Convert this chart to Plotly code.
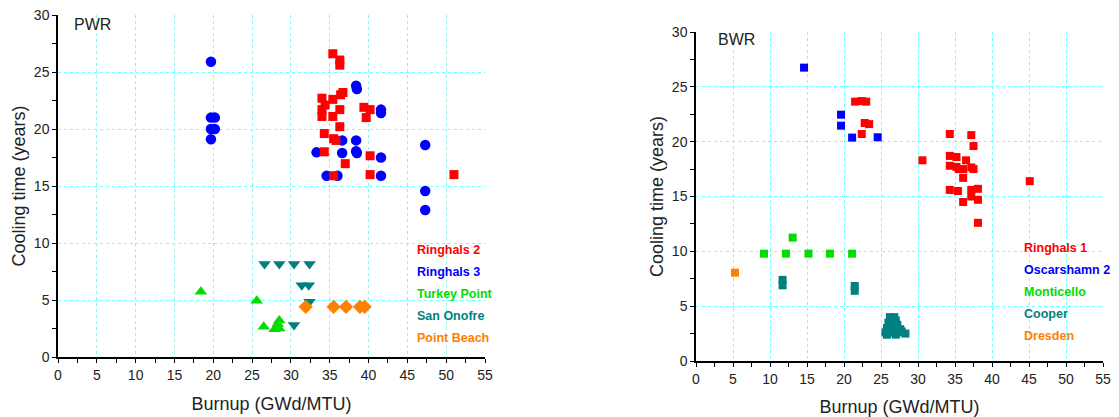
import plotly.graph_objects as go
from plotly.subplots import make_subplots

# ---------------- PWR data ----------------
ringhals2_x = [35.4, 36.3, 36.3, 36.7, 36.4, 34.0, 35.4, 34.4, 34.0, 36.3, 34.0, 35.4, 39.4, 40.2, 39.7,
               36.3, 34.3, 35.5, 35.8, 34.3, 40.2, 37.0, 35.5, 40.2, 51.0]
ringhals2_y = [26.6, 26.05, 25.6, 23.2, 23.0, 22.7, 22.6, 22.1, 21.7, 21.7, 21.1, 21.1, 21.9, 21.7, 21.0,
               20.2, 19.6, 19.15, 19.0, 18.0, 17.65, 16.96, 15.9, 16.0, 16.0]

ringhals3_x = [19.7, 19.7, 20.2, 19.7, 20.2, 19.7, 38.4, 38.5, 41.6, 41.6, 36.6, 38.4, 47.3, 33.3, 36.6,
               38.4, 38.5, 41.6, 34.6, 36.0, 41.6, 47.3, 47.3]
ringhals3_y = [25.9, 21.0, 21.0, 20.0, 20.0, 19.1, 23.8, 23.5, 21.7, 21.4, 19.0, 19.0, 18.6, 17.95, 17.9,
               18.05, 17.9, 17.5, 15.9, 15.9, 15.9, 14.56, 12.9]

turkey_x = [18.4, 25.6, 26.5, 28.5, 28.3, 27.9, 28.5]
turkey_y = [5.73, 4.94, 2.66, 3.2, 2.9, 2.43, 2.5]

onofre_x = [26.6, 28.5, 30.4, 32.4, 31.4, 32.3, 32.4, 30.4]
onofre_y = [8.16, 8.16, 8.16, 8.16, 6.3, 6.3, 4.85, 2.8]

beach_x = [31.9, 35.5, 37.1, 38.9, 39.5]
beach_y = [4.4, 4.4, 4.4, 4.4, 4.4]

# ---------------- BWR data ----------------
ringhals1_x = [21.5, 22.4, 23.0, 22.8, 23.4, 22.4, 34.3, 37.2, 37.5, 30.6, 34.3, 35.2, 36.5, 34.3, 35.2,
               35.5, 36.1, 37.2, 37.5, 36.1, 34.3, 35.4, 37.2, 38.1, 37.2, 38.1, 36.1, 38.1, 45.1]
ringhals1_y = [23.65, 23.7, 23.65, 21.7, 21.6, 20.7, 20.7, 20.6, 19.6, 18.3, 18.7, 18.6, 18.3, 17.8, 17.7,
               17.5, 17.5, 17.65, 17.5, 16.7, 15.6, 15.5, 15.6, 15.7, 15.0, 14.7, 14.5, 12.6, 16.4]

oscar_x = [14.6, 19.6, 19.6, 21.1, 24.55]
oscar_y = [26.75, 22.46, 21.46, 20.37, 20.4]

monti_x = [9.19, 12.16, 13.06, 15.2, 18.1, 21.1]
monti_y = [9.79, 9.79, 11.25, 9.79, 9.79, 9.79]

cooper_x = [11.7, 11.7, 21.45, 21.45, 26.2, 26.8, 27.0, 26.0, 26.5, 27.2, 25.8, 26.3, 27.0, 27.6,
            25.6, 26.1, 26.6, 27.2, 27.8, 28.3, 25.8, 27.0]
cooper_y = [7.4, 6.9, 6.84, 6.4, 4.0, 4.0, 3.7, 3.5, 3.3, 3.3, 3.0, 2.9, 2.9, 2.9,
            2.6, 2.6, 2.6, 2.6, 2.7, 2.5, 2.4, 2.4]

dresden_x = [5.27]
dresden_y = [8.05]

x_tick_vals = [i * 2.5 for i in range(23)]
x_tick_text = [str(int(v)) if v % 5 == 0 else "" for v in x_tick_vals]
x_grid_vals = list(range(5, 51, 5))
y_tick_vals = [i * 2.5 for i in range(13)]
y_tick_text = [str(int(v)) if v % 5 == 0 else "" for v in y_tick_vals]
y_grid_vals = list(range(5, 26, 5))

RED = "#ff0000"
BLUE = "#0000ff"
GREEN = "#00dd00"
TEAL = "#008080"
ORANGE = "#ff8000"

fig = make_subplots(rows=1, cols=2)

def add(x, y, color, symbol, size, col):
    fig.add_trace(go.Scatter(x=x, y=y, mode="markers",
                             marker=dict(color=color, symbol=symbol, size=size, line=dict(width=0)),
                             showlegend=False, hoverinfo="skip"), row=1, col=col)

add(ringhals3_x, ringhals3_y, BLUE, "circle", 10.5, 1)
add(ringhals2_x, ringhals2_y, RED, "square", 9, 1)
add(turkey_x, turkey_y, GREEN, "triangle-up", 11, 1)
add(onofre_x, onofre_y, TEAL, "triangle-down", 11, 1)
add(beach_x, beach_y, ORANGE, "diamond", 11, 1)

add(ringhals1_x, ringhals1_y, RED, "square", 8, 2)
add(oscar_x, oscar_y, BLUE, "square", 8, 2)
add(monti_x, monti_y, GREEN, "square", 8, 2)
add(cooper_x, cooper_y, TEAL, "square", 8, 2)
add(dresden_x, dresden_y, ORANGE, "square", 8, 2)

W, H = 1119, 417
FONT = "Liberation Sans, Arial"
axis_common = dict(
    showline=True, linecolor="black", linewidth=1.5,
    ticks="outside", ticklen=4, tickwidth=1.2, tickcolor="black",
    showgrid=False, zeroline=False, automargin=False,
    tickfont=dict(family=FONT, size=14, color="#222222"),
)

xdom1 = [58 / W, 485 / W]
ydom1 = [(H - 357) / H, (H - 15) / H]
xdom2 = [696 / W, 1103 / W]
ydom2 = [(H - 361) / H, (H - 32) / H]

fig.update_xaxes(**axis_common)
fig.update_yaxes(**axis_common)

grid_minor_x = dict(tickvals=x_grid_vals, ticks="", showgrid=True,
                    gridcolor="#70ffff", griddash="dot", gridwidth=1)
grid_minor_y = dict(tickvals=y_grid_vals, ticks="", showgrid=True,
                    gridcolor="#70ffff", griddash="dot", gridwidth=1)

title_font = dict(family=FONT, size=18, color="#222222")
for col, xd, yd in [(1, xdom1, ydom1), (2, xdom2, ydom2)]:
    fig.update_xaxes(domain=xd, range=[0, 55], tickmode="array", tickvals=x_tick_vals, ticktext=x_tick_text,
                     minor=grid_minor_x,
                     title=dict(text="Burnup (GWd/MTU)", font=title_font, standoff=16),
                     row=1, col=col)
    fig.update_yaxes(domain=yd, range=[0, 30], tickmode="array", tickvals=y_tick_vals, ticktext=y_tick_text,
                     minor=grid_minor_y,
                     title=dict(text="Cooling time (years)", font=title_font, standoff=4),
                     row=1, col=col)

annotations = []
annotations.append(dict(text="PWR", xref="x domain", yref="y domain", x=0.033, y=0.971,
                        xanchor="left", yanchor="middle", showarrow=False,
                        font=dict(family=FONT, size=16, color="#222222")))
annotations.append(dict(text="BWR", xref="x2 domain", yref="y2 domain", x=0.049, y=0.976,
                        xanchor="left", yanchor="middle", showarrow=False,
                        font=dict(family=FONT, size=16, color="#222222")))

left_legend = [("Ringhals 2", RED), ("Ringhals 3", BLUE), ("Turkey Point", GREEN),
               ("San Onofre", TEAL), ("Point Beach", ORANGE)]
left_ys = [0.313, 0.249, 0.184, 0.120, 0.056]
for (name, c), yy in zip(left_legend, left_ys):
    annotations.append(dict(text="<b>%s</b>" % name, xref="x domain", yref="y domain", x=0.836, y=yy,
                            xanchor="left", yanchor="middle", showarrow=False,
                            font=dict(family=FONT, size=12.5, color=c)))

right_legend = [("Ringhals 1", RED), ("Oscarshamn 2", BLUE), ("Monticello", GREEN),
                ("Cooper", TEAL), ("Dresden", ORANGE)]
right_ys = [0.343, 0.277, 0.210, 0.143, 0.076]
for (name, c), yy in zip(right_legend, right_ys):
    annotations.append(dict(text="<b>%s</b>" % name, xref="x2 domain", yref="y2 domain", x=0.801, y=yy,
                            xanchor="left", yanchor="middle", showarrow=False,
                            font=dict(family=FONT, size=12.5, color=c)))

fig.update_layout(width=W, height=H, margin=dict(l=0, r=0, t=0, b=0),
                  plot_bgcolor="white", paper_bgcolor="white",
                  annotations=annotations, showlegend=False)

fig.write_html("out.html", config={"displayModeBar": False},
               post_script="document.body.style.margin='0px';document.body.style.overflow='hidden';")
